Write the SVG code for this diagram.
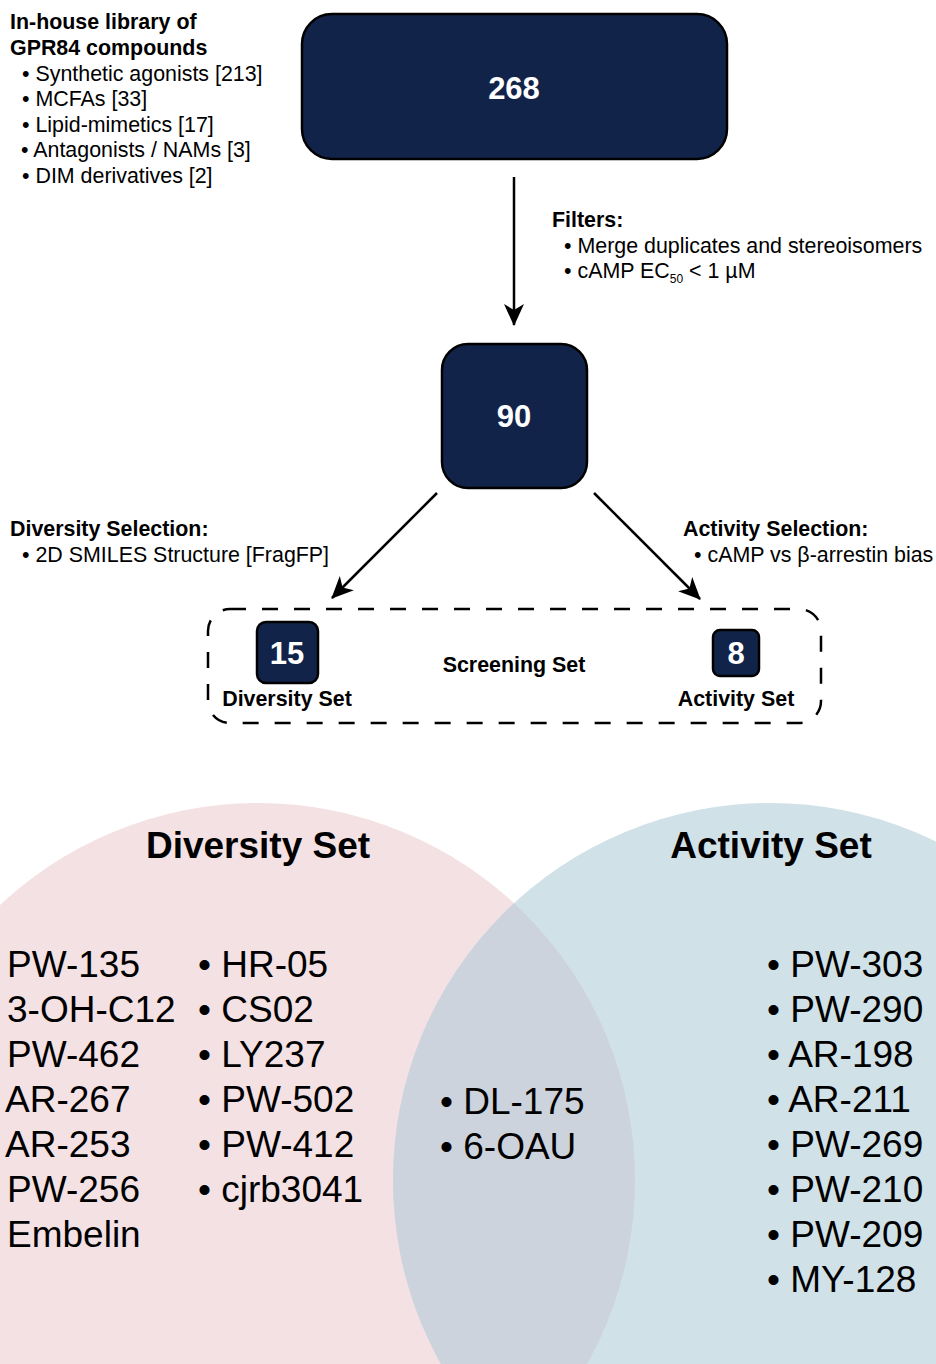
<svg xmlns="http://www.w3.org/2000/svg" width="936" height="1364" viewBox="0 0 936 1364">
<style>
text{font-family:"Liberation Sans",Arial,sans-serif;fill:#000}
.b{font-weight:bold}
.h{font-size:21.4px;font-weight:bold}
.t{font-size:21.4px}
.w{fill:#fff;font-weight:bold;text-anchor:middle}
.box{fill:#12234a;stroke:#000;stroke-width:2.5}
.c{stroke:#000;stroke-width:2.5;fill:none;marker-end:url(#ah)}
.v{font-size:37px}
.vt{font-size:37px;font-weight:bold;text-anchor:middle}
</style>
<defs>
<marker id="ah" markerUnits="userSpaceOnUse" viewBox="0 0 22 20" markerWidth="22" markerHeight="20" refX="21" refY="10" orient="auto">
<path d="M0,0 L22,10 L0,20 L6,10 Z" fill="#000"/>
</marker>
<clipPath id="lc"><circle cx="258" cy="1180" r="377"/></clipPath>
</defs>
<rect width="936" height="1364" fill="#fff"/>

<g id="venn">
<circle cx="258" cy="1180" r="377" fill="#f4e1e4"/>
<circle cx="770" cy="1180" r="377" fill="#d0e1e8"/>
<circle cx="770" cy="1180" r="377" fill="#ccd3dc" clip-path="url(#lc)"/>
<text class="vt" x="258" y="858">Diversity Set</text>
<text class="vt" x="771" y="858">Activity Set</text>
<text class="v" x="7" y="977">PW-135</text>
<text class="v" x="7" y="1022">3-OH-C12</text>
<text class="v" x="7" y="1067">PW-462</text>
<text class="v" x="5" y="1112">AR-267</text>
<text class="v" x="5" y="1157">AR-253</text>
<text class="v" x="7" y="1202">PW-256</text>
<text class="v" x="7" y="1247">Embelin</text>
<text class="v" x="198" y="977">• HR-05</text>
<text class="v" x="198" y="1022">• CS02</text>
<text class="v" x="198" y="1067">• LY237</text>
<text class="v" x="198" y="1112">• PW-502</text>
<text class="v" x="198" y="1157">• PW-412</text>
<text class="v" x="198" y="1202">• cjrb3041</text>
<text class="v" x="440" y="1114">• DL-175</text>
<text class="v" x="440" y="1159">• 6-OAU</text>
<text class="v" x="767" y="977">• PW-303</text>
<text class="v" x="767" y="1022">• PW-290</text>
<text class="v" x="767" y="1067">• AR-198</text>
<text class="v" x="767" y="1112">• AR-211</text>
<text class="v" x="767" y="1157">• PW-269</text>
<text class="v" x="767" y="1202">• PW-210</text>
<text class="v" x="767" y="1247">• PW-209</text>
<text class="v" x="767" y="1292">• MY-128</text>
</g>

<g id="library-label">
<text class="h" x="10" y="29">In-house library of</text>
<text class="h" x="10" y="55">GPR84 compounds</text>
<text class="t" x="22" y="81">• Synthetic agonists [213]</text>
<text class="t" x="22" y="106">• MCFAs [33]</text>
<text class="t" x="22" y="132">• Lipid-mimetics [17]</text>
<text class="t" x="21" y="157">• Antagonists / NAMs [3]</text>
<text class="t" x="22" y="183">• DIM derivatives [2]</text>
</g>

<g id="node-268">
<rect class="box" x="302" y="14" width="425" height="145" rx="30"/>
<text class="w" x="514" y="99" font-size="31">268</text>
</g>

<g id="filters-label">
<text class="h" x="552" y="227">Filters:</text>
<text class="t" x="564" y="253">• Merge duplicates and stereoisomers</text>
<text class="t" x="564" y="278">• cAMP EC<tspan font-size="12" dy="5">50</tspan><tspan dy="-5"> &lt; 1 µM</tspan></text>
</g>

<g id="node-90">
<rect class="box" x="442" y="344" width="145" height="144" rx="26"/>
<text class="w" x="514" y="427" font-size="31">90</text>
</g>

<g id="diversity-label">
<text class="h" x="10" y="536">Diversity Selection:</text>
<text class="t" x="22" y="562">• 2D SMILES Structure [FragFP]</text>
</g>
<g id="activity-label">
<text class="h" x="683" y="536">Activity Selection:</text>
<text class="t" x="694" y="562">• cAMP vs β-arrestin bias</text>
</g>

<g id="screening-set">
<rect x="208" y="609" width="613" height="114" rx="22" fill="none" stroke="#000" stroke-width="2.5" stroke-dasharray="16 16"/>
<text class="b" x="514" y="672" font-size="21.4" text-anchor="middle">Screening Set</text>
</g>
<g id="node-15">
<rect class="box" x="257" y="622" width="61" height="61" rx="9"/>
<text class="w" x="287" y="664" font-size="31">15</text>
<text class="b" x="287" y="706" font-size="21.4" text-anchor="middle">Diversity Set</text>
</g>
<g id="node-8">
<rect class="box" x="713" y="630" width="46" height="46" rx="7"/>
<text class="w" x="736" y="664" font-size="31">8</text>
<text class="b" x="736" y="706" font-size="21.4" text-anchor="middle">Activity Set</text>
</g>

<g id="connectors">
<line class="c" x1="514" y1="177" x2="514" y2="325"/>
<line class="c" x1="437" y1="493" x2="332" y2="598"/>
<line class="c" x1="594" y1="493" x2="700" y2="599"/>
</g>
</svg>
